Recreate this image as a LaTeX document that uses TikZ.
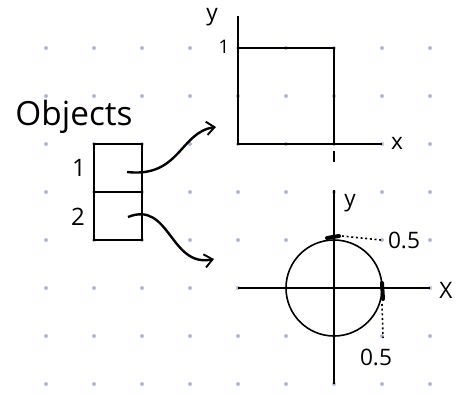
\documentclass[tikz,border=0pt]{standalone}
\usepackage{fontspec}
\setmainfont{Open Sans}
\usetikzlibrary{arrows.meta}
\begin{document}
\begin{tikzpicture}[x=0.75pt,y=-0.75pt,
  ln/.style={line width=1.2pt,black},
  lbl/.style={font=\fontsize{17}{19}\selectfont, inner sep=0pt},
  hand/.style={line width=1.8pt,black,-{Straight Barb[length=6pt,width=10pt,line width=1.4pt]}},
  thickmark/.style={line width=3pt,black,line cap=round},
  dotln/.style={line width=1.2pt,black,dash pattern=on 1.5pt off 2pt}]
\definecolor{gridblue}{HTML}{A9BCDB}
\useasboundingbox (0,0) rectangle (459,396);
\foreach \x in {46,94,...,430}{\foreach \y in {48,96,...,384}{\fill[gridblue] (\x,\y) circle (2);}}
% top square
\coordinate (o1) at (238,144);
\coordinate (ytop1) at (238,16);
\coordinate (xend1) at (382,144);
\draw[ln] (ytop1) -- (o1) -- (xend1);
\draw[ln] (238,48) -- (334,48) -- (334,144);
\draw[line width=1pt] (334,151) -- (334,162);
\node[lbl] (y1) at (212,17) {y};
\node[lbl] (x1) at (397,143) {x};
\node[lbl,font=\fontsize{14}{16}\selectfont] (one1) at (224,47) {1};
% object box
\node[draw,line width=1.2pt,minimum width=36pt,minimum height=36pt,inner sep=0pt] (b1) at (118,168) {};
\node[draw,line width=1.2pt,minimum width=36pt,minimum height=36pt,inner sep=0pt] (b2) at (118,216) {};
\node[lbl,font=\fontsize{25}{27}\selectfont] (objs) at (74,117) {Objects};
\node[lbl,font=\fontsize{18}{20}\selectfont] (n1) at (79,168) {1};
\node[lbl,font=\fontsize{18}{20}\selectfont] (n2) at (78,217) {2};
\coordinate (a1) at (216,127);
\coordinate (a2) at (214,259);
\draw[hand] (127,172) .. controls (180,178) and (180,132) .. (a1);
\draw[hand] (128,217) .. controls (170,200) and (170,268) .. (a2);
% bottom circle
\coordinate (o2) at (334,288);
\draw[ln] (334,190) -- (334,384);
\draw[ln] (238,288) -- (430,288);
\draw[ln] (o2) circle (48);
\draw[thickmark] (327,238) -- (339,236);
\draw[thickmark] (382,283) -- (383,299);
\draw[dotln] (342,236) -- (381,240);
\draw[dotln] (382,304) -- (383,338);
\node[lbl] (y2) at (350,203) {y};
\node[lbl] (x2) at (446,290) {X};
\node[lbl] (h1) at (404,240) {0.5};
\node[lbl] (h2) at (376,357) {0.5};
\end{tikzpicture}
\end{document}
